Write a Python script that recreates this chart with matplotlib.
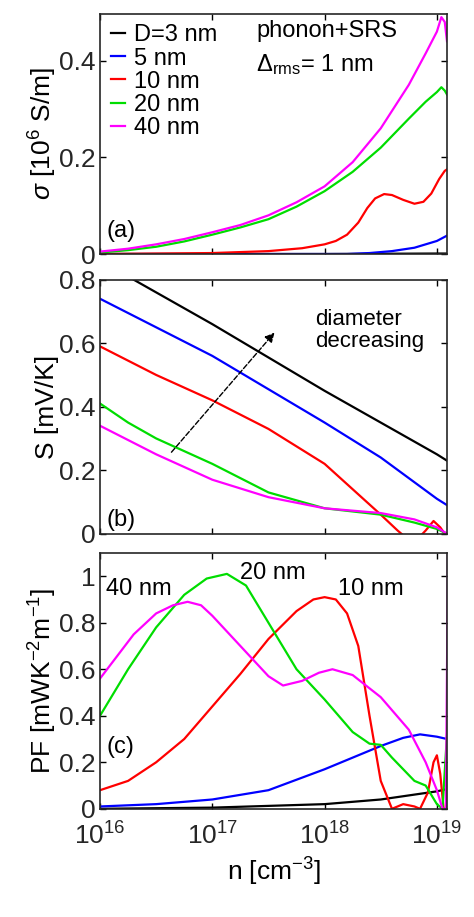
import numpy as np
import matplotlib
matplotlib.use("Agg")
import matplotlib.pyplot as plt

labels = ["D=3 nm", "5 nm", "10 nm", "20 nm", "40 nm"]
colors = ["black", "#0000ff", "#ff0000", "#00dd00", "#ff00ff"]

# panel (a) sigma [1e6 S/m], x = log10(n)
a_x = {
 "k": [16, 17, 18, 19, 19.09],
 "b": [16, 18.2, 18.4, 18.6, 18.8, 19, 19.09],
 "r": [16, 16.5, 17, 17.5, 17.8, 18, 18.1, 18.2, 18.3, 18.38, 18.45, 18.53, 18.6, 18.7, 18.8, 18.88, 18.95, 19.02, 19.07, 19.09],
 "g": [16, 16.25, 16.5, 16.75, 17, 17.25, 17.5, 17.75, 18, 18.25, 18.5, 18.75, 18.9, 19, 19.04, 19.07, 19.09],
 "m": [16, 16.25, 16.5, 16.75, 17, 17.25, 17.5, 17.75, 18, 18.25, 18.5, 18.75, 18.9, 19, 19.04, 19.07, 19.09],
}
a_y = {
 "k": [0, 0, 0, 0.001, 0.001],
 "b": [0, 0, 0.002, 0.006, 0.013, 0.027, 0.038],
 "r": [0, 0.001, 0.002, 0.006, 0.012, 0.02, 0.027, 0.04, 0.065, 0.095, 0.115, 0.124, 0.122, 0.112, 0.104, 0.108, 0.125, 0.155, 0.172, 0.175],
 "g": [0.003, 0.008, 0.015, 0.026, 0.04, 0.055, 0.072, 0.098, 0.13, 0.17, 0.22, 0.28, 0.315, 0.335, 0.345, 0.338, 0.33],
 "m": [0.005, 0.011, 0.02, 0.031, 0.045, 0.06, 0.08, 0.107, 0.14, 0.19, 0.26, 0.35, 0.415, 0.46, 0.49, 0.48, 0.44],
}
# panel (b) S [mV/K]
b_x = {
 "k": [16, 16.3, 17, 18, 19, 19.09],
 "b": [16, 17, 18, 18.5, 19, 19.09],
 "r": [16, 16.5, 17, 17.5, 18, 18.25, 18.5, 18.65, 18.75, 18.82, 18.9, 18.97, 19.03, 19.09],
 "g": [16, 16.25, 16.5, 16.75, 17, 17.5, 18, 18.5, 18.8, 19, 19.09],
 "m": [16, 16.25, 16.5, 16.75, 17, 17.5, 18, 18.5, 18.8, 19, 19.09],
}
b_y = {
 "k": [0.86, 0.8, 0.66, 0.45, 0.25, 0.23],
 "b": [0.74, 0.56, 0.35, 0.24, 0.11, 0.09],
 "r": [0.59, 0.5, 0.42, 0.33, 0.22, 0.14, 0.06, 0.01, -0.02, -0.02, 0.01, 0.04, 0.02, -0.01],
 "g": [0.41, 0.35, 0.3, 0.26, 0.22, 0.13, 0.08, 0.06, 0.035, 0.015, 0.0],
 "m": [0.34, 0.295, 0.25, 0.21, 0.17, 0.115, 0.08, 0.065, 0.045, 0.02, 0.0],
}
# panel (c) PF [mW K^-2 m^-1]
c_x = {
 "k": [16, 17, 18, 18.5, 19, 19.09],
 "b": [16, 16.5, 17, 17.5, 18, 18.25, 18.5, 18.7, 18.85, 19, 19.09],
 "r": [16, 16.25, 16.5, 16.75, 17, 17.25, 17.5, 17.75, 17.9, 18.0, 18.1, 18.2, 18.3, 18.4, 18.5, 18.6, 18.7, 18.8, 18.85, 18.92, 18.97, 19.0, 19.03, 19.06, 19.09],
 "g": [16, 16.25, 16.5, 16.75, 16.95, 17.13, 17.3, 17.5, 17.75, 18, 18.25, 18.4, 18.5, 18.6, 18.8, 18.9, 19.0, 19.05, 19.09],
 "m": [16, 16.3, 16.5, 16.65, 16.78, 16.9, 17, 17.25, 17.5, 17.63, 17.8, 17.95, 18.07, 18.25, 18.5, 18.75, 18.9, 19.0, 19.05, 19.08, 19.1],
}
c_y = {
 "k": [0, 0.005, 0.02, 0.04, 0.075, 0.085],
 "b": [0.01, 0.02, 0.04, 0.08, 0.17, 0.22, 0.27, 0.305, 0.32, 0.31, 0.3],
 "r": [0.08, 0.12, 0.2, 0.3, 0.44, 0.58, 0.73, 0.85, 0.9, 0.91, 0.9, 0.84, 0.7, 0.4, 0.12, 0.0, 0.02, 0.01, 0.0, 0.07, 0.2, 0.23, 0.15, 0.0, 0.0],
 "g": [0.4, 0.6, 0.78, 0.92, 0.99, 1.01, 0.96, 0.8, 0.6, 0.47, 0.33, 0.28, 0.275, 0.22, 0.12, 0.1, 0.02, 0.0, 0.32],
 "m": [0.56, 0.75, 0.84, 0.875, 0.89, 0.875, 0.83, 0.7, 0.57, 0.53, 0.55, 0.585, 0.60, 0.575, 0.48, 0.34, 0.2, 0.08, 0.0, 0.0, 1.2],
}
keys = ["k", "b", "r", "g", "m"]

plt.rcParams["font.family"] = ["Liberation Sans", "DejaVu Sans"]
plt.rcParams["mathtext.fontset"] = "custom"
plt.rcParams["mathtext.rm"] = "Liberation Sans"
plt.rcParams["mathtext.it"] = "Liberation Sans:italic"
plt.rcParams["font.size"] = 18
fig = plt.figure(figsize=(4.74, 9.17), dpi=100)
axa = fig.add_axes([0.211, 0.723, 0.732, 0.262])
axb = fig.add_axes([0.211, 0.418, 0.732, 0.277])
axc = fig.add_axes([0.211, 0.118, 0.732, 0.279])

def style(ax, ylim, yticks, ytl):
    ax.set_xscale("log")
    ax.set_xlim(1e16, 1.23e19)
    ax.set_ylim(*ylim)
    ax.set_yticks(yticks)
    ax.set_yticklabels(ytl)
    ax.set_xticks([1e16, 1e17, 1e18, 1e19])
    ax.minorticks_off()
    ax.tick_params(direction="in", top=True, right=True, length=4, labelsize=19,
                   labelcolor="#262626", width=1, pad=3)
    for s in ax.spines.values():
        s.set_linewidth(1.2)
        s.set_color("#262626")

for ax, X, Y in [(axa, a_x, a_y), (axb, b_x, b_y), (axc, c_x, c_y)]:
    for k, lab, c in zip(keys, labels, colors):
        ax.plot(10 ** np.array(X[k]), Y[k], color=c, lw=1.6, label=lab)

style(axa, (0, 0.497), [0, 0.2, 0.4], ["0", "0.2", "0.4"])
style(axb, (0, 0.8), [0, 0.2, 0.4, 0.6, 0.8], ["0", "0.2", "0.4", "0.6", "0.8"])
style(axc, (0, 1.1), [0, 0.2, 0.4, 0.6, 0.8, 1.0], ["0", "0.2", "0.4", "0.6", "0.8", "1"])
axa.set_xticklabels([])
axb.set_xticklabels([])
axc.set_xticklabels([r"$10^{16}$", r"$10^{17}$", r"$10^{18}$", r"$10^{19}$"])
axc.tick_params(axis="x", pad=10)

axa.set_ylabel(r"$\sigma$ [10$^6$ S/m]", fontsize=19, labelpad=0)
axb.set_ylabel("S [mV/K]", fontsize=19, labelpad=0)
axc.set_ylabel(r"PF [mWK$^{-2}$m$^{-1}$]", fontsize=19, labelpad=0)
axc.set_xlabel(r"n [cm$^{-3}$]", fontsize=19)

axa.legend(loc="upper left", frameon=False, handlelength=0.6, handletextpad=0.4,
           borderaxespad=0.05, labelspacing=0.05, fontsize=17)
axa.text(0.45, 0.93, "phonon+SRS", transform=axa.transAxes, fontsize=17, va="center")
axa.text(0.45, 0.79, r"$\Delta_{\mathrm{rms}}$= 1 nm", transform=axa.transAxes, fontsize=17, va="center")
axa.text(0.02, 0.07, "(a)", transform=axa.transAxes, fontsize=17)
axb.text(0.02, 0.03, "(b)", transform=axb.transAxes, fontsize=17)
axc.text(0.02, 0.22, "(c)", transform=axc.transAxes, fontsize=17)

axb.annotate("", xy=(10 ** 17.57, 0.64), xytext=(10 ** 16.62, 0.25),
             arrowprops=dict(arrowstyle="-|>", ls="--", color="black", lw=1, mutation_scale=14))
axb.text(0.62, 0.80, "diameter\ndecreasing", transform=axb.transAxes, fontsize=16,
         ha="left", va="center", linespacing=1.1)

axc.text(10 ** 16.05, 0.92, "40 nm", fontsize=17)
axc.text(10 ** 17.25, 0.99, "20 nm", fontsize=17)
axc.text(10 ** 18.12, 0.92, "10 nm", fontsize=17)

fig.savefig("out.png", dpi=100)
